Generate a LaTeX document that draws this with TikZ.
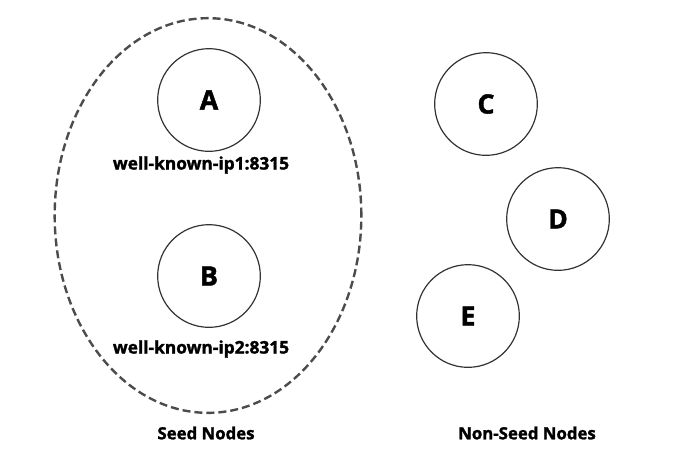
\documentclass[tikz,border=0pt]{standalone}
\usepackage{fontspec}
\setmainfont{Open Sans}[BoldFeatures={FakeBold=1.6}]
\usetikzlibrary{positioning,shapes.geometric}

\begin{document}
\begin{tikzpicture}[
    x=0.75pt, y=-0.75pt,
    peer/.style={draw=black!80, circle, line width=0.9pt, minimum size=77pt, inner sep=0pt, font=\fontsize{20}{22}\selectfont\bfseries},
    addr/.style={font=\fontsize{13}{15}\selectfont\bfseries, inner sep=0pt},
    caption/.style={font=\fontsize{12.6}{14}\selectfont\bfseries, inner sep=0pt},
    group/.style={draw=black!70, ellipse, dashed, dash pattern=on 6pt off 3pt, line width=1.8pt, minimum width=230pt, minimum height=296pt, inner sep=0pt}
]
\useasboundingbox (0,0) rectangle (674,455);

% Seed group
\node[group] (seed) at (208,215.5) {};
\node[peer] (A) at (209,100) {A};
\node[addr] (ipA) at (201,165) {well-known-ip1:8315};
\node[peer] (B) at (209,276) {B};
\node[addr] (ipB) at (201,349) {well-known-ip2:8315};

% Non-seed nodes
\node[peer] (C) at (486,104) {C};
\node[peer] (D) at (558,219) {D};
\node[peer] (E) at (468,316) {E};

% Captions
\node[caption] (seedlbl) at (206,433) {Seed Nodes};
\node[caption] (nonseedlbl) at (527,433) {Non-Seed Nodes};

\end{tikzpicture}
\end{document}
